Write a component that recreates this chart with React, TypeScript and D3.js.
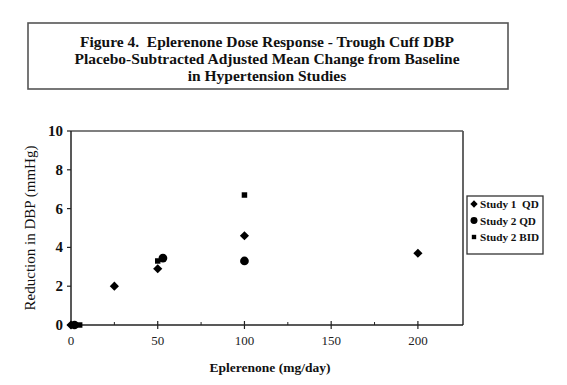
import React from "react";
import * as d3 from "d3";

const titleLines = [
  "Figure 4.  Eplerenone Dose Response - Trough Cuff DBP",
  "Placebo-Subtracted Adjusted Mean Change from Baseline",
  "in Hypertension Studies",
];
const xTicks = [0, 50, 100, 150, 200];
const xMinorTicks = [25, 75, 125, 175];
const yTicks = [0, 2, 4, 6, 8, 10];

const study1QD = [
  { dose: 0, value: 0 },
  { dose: 25, value: 2.0 },
  { dose: 50, value: 2.9 },
  { dose: 100, value: 4.6 },
  { dose: 200, value: 3.7 },
];
const study2QD = [
  { dose: 2, value: 0 },
  { dose: 53, value: 3.45 },
  { dose: 100, value: 3.3 },
];
const study2BID = [
  { dose: 5, value: 0 },
  { dose: 50, value: 3.3 },
  { dose: 100, value: 6.7 },
];

const legendLabels = ["Study 1  QD", "Study 2 QD", "Study 2 BID"];

const W = 567;
const H = 385;
const FONT = "'Liberation Serif', serif";

export default function App() {
  const x = d3.scaleLinear().domain([0, 226]).range([71, 463]);
  const y = d3.scaleLinear().domain([0, 10]).range([325, 131]);

  const diamond = d3.symbol().type(d3.symbolSquare).size(42)();
  const circle = d3.symbol().type(d3.symbolCircle).size(60)();
  const square = d3.symbol().type(d3.symbolSquare).size(30)();

  const marker = (i: number, tx: number, ty: number, s = 1) => {
    if (i === 0) return <path d={diamond} transform={`translate(${tx},${ty}) rotate(45) scale(${s})`} fill="#000" />;
    if (i === 1) return <path d={circle} transform={`translate(${tx},${ty}) scale(${s})`} fill="#000" />;
    return <path d={square} transform={`translate(${tx},${ty}) scale(${s})`} fill="#000" />;
  };

  return (
    <svg
      width={W}
      height={H}
      style={{ position: "absolute", left: 0, top: 0, background: "#fff" }}
      fontFamily={FONT}
    >
      <rect x={0} y={0} width={W} height={H} fill="#fff" />
      {/* Title box */}
      <rect x={28} y={23} width={480} height={66} fill="none" stroke="#555" strokeWidth={1.6} />
      {titleLines.map((t, i) => (
        <text
          key={i}
          x={267}
          y={47 + i * 17}
          textAnchor="middle"
          fontSize={15.5}
          fontWeight="bold"
          fill="#111"
          style={{ whiteSpace: "pre" }}
        >
          {t}
        </text>
      ))}

      {/* Plot frame */}
      <line x1={x(0)} x2={x(226)} y1={y(10)} y2={y(10)} stroke="#555" strokeWidth={1.6} />
      <line x1={x(226)} x2={x(226)} y1={y(10)} y2={y(0)} stroke="#555" strokeWidth={1.8} />
      <line x1={x(0)} x2={x(226)} y1={y(0)} y2={y(0)} stroke="#222" strokeWidth={1.5} />
      <line x1={x(0)} x2={x(0)} y1={y(10)} y2={y(0)} stroke="#222" strokeWidth={1.5} />

      {/* X ticks */}
      {xTicks.map((t) => (
        <g key={t}>
          <line x1={x(t)} x2={x(t)} y1={y(0) - 4} y2={y(0) + 4} stroke="#222" strokeWidth={1.2} />
          <text x={x(t)} y={y(0) + 20} textAnchor="middle" fontSize={13} fill="#222">
            {t}
          </text>
        </g>
      ))}
      {xMinorTicks.map((t) => (
        <line key={t} x1={x(t)} x2={x(t)} y1={y(0) - 3} y2={y(0)} stroke="#222" strokeWidth={1} />
      ))}

      {/* Y ticks */}
      {yTicks.map((t) => (
        <g key={t}>
          <line x1={x(0) - 4} x2={x(0)} y1={y(t)} y2={y(t)} stroke="#222" strokeWidth={1.2} />
          <text
            x={x(0) - 8}
            y={y(t) + 5}
            textAnchor="end"
            fontSize={15}
            fontWeight="bold"
            fill="#111"
          >
            {t}
          </text>
        </g>
      ))}

      {/* Axis titles */}
      <text
        transform={`translate(35, ${y(5)}) rotate(-90)`}
        textAnchor="middle"
        fontSize={15}
        fill="#111"
      >
        Reduction in DBP (mmHg)
      </text>
      <text x={270} y={372} textAnchor="middle" fontSize={13.5} fontWeight="bold" fill="#111">
        Eplerenone (mg/day)
      </text>

      {/* Points */}
      {study1QD.map((d, i) => <g key={"a" + i}>{marker(0, x(d.dose), y(d.value))}</g>)}
      {study2QD.map((d, i) => <g key={"b" + i}>{marker(1, x(d.dose), y(d.value))}</g>)}
      {study2BID.map((d, i) => <g key={"c" + i}>{marker(2, x(d.dose), y(d.value))}</g>)}

      {/* Legend */}
      <rect x={467} y={196} width={76} height={58} fill="#fff" stroke="#333" strokeWidth={1.3} />
      {legendLabels.map((l, i) => (
        <g key={l}>
          {marker(i, 474, 204 + i * 16.5, 0.8)}
          <text x={480} y={208 + i * 16.5} fontSize={11.2} fontWeight="bold" fill="#111" style={{ whiteSpace: "pre" }}>
            {l}
          </text>
        </g>
      ))}
    </svg>
  );
}
